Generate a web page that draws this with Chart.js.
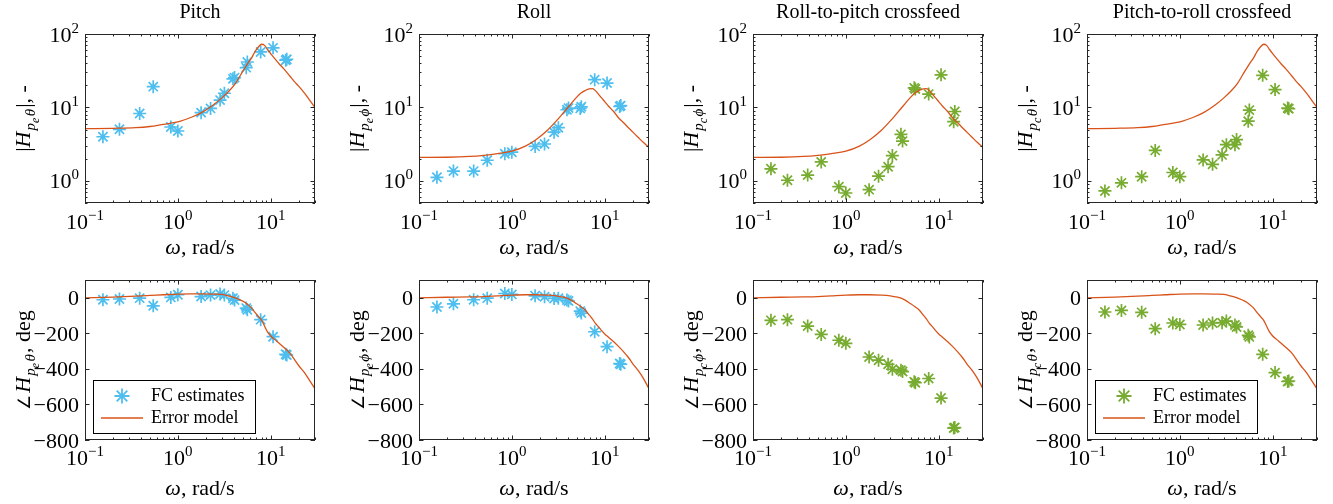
<!DOCTYPE html>
<html>
<head>
<meta charset="utf-8">
<script src="https://cdn.jsdelivr.net/npm/chart.js@4.4.0/dist/chart.umd.min.js"></script>
<style>
  html, body { margin: 0; padding: 0; background: #fff; overflow: hidden; }
  #wrap { position: relative; width: 1333px; height: 504px; }
  #wrap canvas { position: absolute; }
</style>
</head>
<body>
<div id="wrap"></div>
<script>
// Frequency-comb (FC) estimate frequencies, rad/s
const fcFreqs = [0.156, 0.235, 0.388, 0.543, 0.84, 1.0, 1.78, 2.25, 2.85, 3.17, 3.92, 4.08, 5.45, 5.6, 7.8, 10.6, 14.5, 14.9];

// FC estimates: magnitude (-) and phase (deg) per transfer function
const pitchMag   = [3.99, 5.04, 8.27, 19.2, 5.42, 4.78, 8.5, 9.7, 12.6, 15.6, 24.5, 25.5, 34.8, 41.6, 57, 64.8, 44, 45.3];
const pitchPhase = [-11, -7, -2, -45, 2, 17, 7, 15, 21, 15, -3, -13, -58, -68, -123, -219, -318, -322];
const rollMag    = [1.12, 1.36, 1.36, 1.91, 2.34, 2.46, 2.95, 3.18, 4.6, 5.3, 9.3, 9.8, 9.7, 10.2, 23.9, 21.5, 10.3, 10.6];
const rollPhase  = [-52, -34, -11, -2, 24, 19, 11, 6, -4, -2, -13, -18, -75, -86, -191, -275, -370, -374];
const rtpMag     = [1.46, 1.02, 1.2, 1.81, 0.835, 0.684, 0.76, 1.16, 1.56, 2.21, 4.3, 3.48, 18.5, 17.8, 15.2, 27.8, 6.4, 8.8];
const rtpPhase   = [-127, -123, -159, -206, -239, -256, -333, -351, -374, -402, -407, -415, -473, -478, -454, -564, -733, -730];
const ptrMag     = [0.73, 0.94, 1.14, 2.6, 1.3, 1.14, 1.93, 1.68, 2.26, 3.11, 3.11, 3.65, 6.5, 9.2, 27.4, 17.5, 9.8, 9.6];
const ptrPhase   = [-80, -71, -82, -174, -142, -150, -153, -142, -140, -131, -153, -164, -211, -220, -318, -421, -471, -468];

// Error model responses sampled along the frequency axis
const modelFreqs      = [0.1, 0.2, 0.35, 0.5, 0.7, 1.0, 1.4, 1.8, 2.4, 3.0, 3.6, 4.2, 5.0, 5.6, 6.2, 6.8, 7.4, 8.0, 8.6, 9.2, 10, 11, 12.5, 14, 16, 18, 20, 23, 26, 30];
const pitchModelMag   = [5.14, 5.2, 5.3, 5.5, 5.9, 6.35, 7.35, 8.5, 10.8, 13.6, 17.0, 21.5, 31, 39, 47, 58, 67, 72.5, 70, 62, 54, 46.5, 38.5, 33, 27, 22.5, 19.5, 15.8, 12.8, 10];
const rollModelMag    = [2.09, 2.1, 2.15, 2.23, 2.35, 2.54, 2.98, 3.6, 4.85, 6.5, 8.5, 10.7, 13.8, 15.8, 17.1, 17.9, 18.0, 16.8, 15.1, 13.6, 12, 10.4, 8.8, 7.3, 6.2, 5.3, 4.65, 3.9, 3.35, 2.86];
const pitchModelPhase = [0, 4, 9, 13, 17, 21, 22, 22, 21, 19, 9, -2, -19, -36, -57, -84, -106, -127, -160, -190, -215, -234, -258, -281, -310, -346, -381, -420, -462, -512];
const rollModelPhase  = [0, 3, 5, 7, 11, 15, 17, 17, 15, 11, 3, -9, -34, -52, -70, -96, -120, -146, -164, -183, -204, -222, -247, -272, -304, -336, -370, -410, -452, -512];

// Axis ticks
const freqTicks  = [0.1, 1, 10];
const magTicks   = [1, 10, 100];
const phaseTicks = [-800, -600, -400, -200, 0];

const BLUE = '#4DBEEE';
const GREEN = '#77AC30';
const RED = '#D95319';
const INK = '#262626';
const SERIF = '"Liberation Serif", "Times New Roman", serif';

const panels = [
  { title: 'Pitch', sub: 'e', v: '\u03B8', color: BLUE, mag: pitchMag, phase: pitchPhase, mMag: pitchModelMag, mPhase: pitchModelPhase, legend: true },
  { title: 'Roll', sub: 'e', v: '\u03D5', color: BLUE, mag: rollMag, phase: rollPhase, mMag: rollModelMag, mPhase: rollModelPhase, legend: false },
  { title: 'Roll-to-pitch crossfeed', sub: 'c', v: '\u03D5', color: GREEN, mag: rtpMag, phase: rtpPhase, mMag: rollModelMag, mPhase: rollModelPhase, legend: false },
  { title: 'Pitch-to-roll crossfeed', sub: 'c', v: '\u03B8', color: GREEN, mag: ptrMag, phase: ptrPhase, mMag: pitchModelMag, mPhase: pitchModelPhase, legend: true },
];

// --- rich text helpers (runs of text with size / italic / vertical offset) ---
function runFont(r) {
  return (r.it ? 'italic ' : '') + r.s + 'px ' + SERIF;
}
function runsWidth(ctx, runs) {
  let w = 0;
  for (const r of runs) {
    ctx.font = runFont(r);
    w += ctx.measureText(r.t).width + (r.gap || 0);
  }
  return w;
}
function drawRuns(ctx, runs, x, y) {
  for (const r of runs) {
    ctx.font = runFont(r);
    ctx.fillText(r.t, x, y + (r.dy || 0));
    x += ctx.measureText(r.t).width + (r.gap || 0);
  }
}
function powRuns(v) {
  const e = Math.round(Math.log10(v));
  return [{ t: '10', s: 22 }, { t: (e < 0 ? '\u2212' : '') + Math.abs(e), s: 15, dy: -9 }];
}
function hRuns(p) {
  return [
    { t: 'H', s: 22, it: true, gap: 1 },
    { t: 'p', s: 15, it: true, dy: 5 },
    { t: p.sub, s: 12, it: true, dy: 9, gap: 1.5 },
    { t: p.v, s: 15, it: true, dy: 5, gap: 1 },
  ];
}

// minor + major tick positions along a log axis
function logStops(min, max) {
  const out = [];
  for (let e = Math.floor(Math.log10(min)); e <= Math.ceil(Math.log10(max)); e++) {
    for (let k = 1; k <= 9; k++) {
      const v = k * Math.pow(10, e);
      if (v >= min * 0.999 && v <= max * 1.001) out.push({ v, major: k === 1 });
    }
  }
  return out;
}

// frame, inward ticks, tick labels, axis labels, title and legend
const decor = {
  id: 'decor',
  afterDraw(chart, args, o) {
    const ctx = chart.ctx;
    const ca = chart.chartArea;
    const left = Math.round(ca.left), right = Math.round(ca.right);
    const top = Math.round(ca.top), bottom = Math.round(ca.bottom);
    const xs = chart.scales.x, ys = chart.scales.y;
    ctx.save();

    ctx.strokeStyle = INK;
    ctx.lineWidth = 1;
    ctx.strokeRect(left + 0.5, top + 0.5, right - left - 1, bottom - top - 1);

    ctx.beginPath();
    for (const s of logStops(xs.min, xs.max)) {
      const px = Math.round(xs.getPixelForValue(s.v)) + 0.5;
      const len = s.major ? 4.5 : 2.5;
      ctx.moveTo(px, bottom); ctx.lineTo(px, bottom - len);
      ctx.moveTo(px, top); ctx.lineTo(px, top + len);
    }
    const yStops = o.isMag ? logStops(ys.min, ys.max) : phaseTicks.map(v => ({ v, major: true }));
    for (const s of yStops) {
      const py = Math.round(ys.getPixelForValue(s.v)) + 0.5;
      const len = s.major ? 4.5 : 2.5;
      ctx.moveTo(left, py); ctx.lineTo(left + len, py);
      ctx.moveTo(right, py); ctx.lineTo(right - len, py);
    }
    ctx.stroke();

    ctx.fillStyle = '#000';
    ctx.textBaseline = 'alphabetic';
    ctx.textAlign = 'left';

    // x tick labels
    for (const v of freqTicks) {
      const runs = powRuns(v);
      const w = runsWidth(ctx, runs);
      drawRuns(ctx, runs, xs.getPixelForValue(v) - w / 2, bottom + o.tickBase);
    }
    // y tick labels
    if (o.isMag) {
      for (const v of magTicks) {
        const runs = powRuns(v);
        const w = runsWidth(ctx, runs);
        drawRuns(ctx, runs, left - 6 - w, ys.getPixelForValue(v) + 7.5);
      }
    } else {
      for (const v of phaseTicks) {
        const runs = [{ t: v < 0 ? '\u2212' + Math.abs(v) : String(v), s: 22 }];
        const w = runsWidth(ctx, runs);
        drawRuns(ctx, runs, left - 6 - w, ys.getPixelForValue(v) + 7.5);
      }
    }

    // x axis label
    const xl = [{ t: '\u03C9', s: 22, it: true }, { t: ', rad/s', s: 22 }];
    const xw = runsWidth(ctx, xl);
    drawRuns(ctx, xl, (left + right) / 2 - xw / 2, bottom + o.labelBase);

    // y axis label, rotated
    const p = o.panel;
    const yl = o.isMag
      ? [{ t: '|', s: 22 }].concat(hRuns(p), [{ t: '|, -', s: 22 }])
      : [{ t: '\u2220', s: 17, gap: 2 }].concat(hRuns(p), [{ t: ', deg', s: 22 }]);
    const yw = runsWidth(ctx, yl);
    ctx.save();
    ctx.translate(30, (top + bottom) / 2);
    ctx.rotate(-Math.PI / 2);
    drawRuns(ctx, yl, -yw / 2, 0);
    ctx.restore();

    // panel title
    if (o.isMag) {
      ctx.font = '20px ' + SERIF;
      ctx.textAlign = 'center';
      ctx.fillText(p.title, (left + right) / 2, 18);
      ctx.textAlign = 'left';
    }

    // legend box
    if (!o.isMag && p.legend) {
      const bx = left + 8, by = top + 100, bw = 162, bh = 53;
      ctx.fillStyle = '#fff';
      ctx.fillRect(bx, by, bw, bh);
      ctx.strokeStyle = '#000';
      ctx.lineWidth = 1;
      ctx.strokeRect(bx + 0.5, by + 0.5, bw, bh);
      ctx.strokeStyle = p.color;
      ctx.lineWidth = 1.8;
      Chart.helpers.drawPoint(ctx, { pointStyle: 'star', radius: 7.5, borderWidth: 1.8 }, left + 37, by + 16);
      ctx.strokeStyle = RED;
      ctx.lineWidth = 1.3;
      ctx.beginPath();
      ctx.moveTo(left + 16, by + 38); ctx.lineTo(left + 58, by + 38);
      ctx.stroke();
      ctx.fillStyle = '#000';
      ctx.font = '18px ' + SERIF;
      ctx.textBaseline = 'middle';
      ctx.fillText('FC estimates', left + 66, by + 16);
      ctx.fillText('Error model', left + 66, by + 38);
    }
    ctx.restore();
  }
};

const wrap = document.getElementById('wrap');
const COL_W = 331, COL_STEP = 334;
const TOP_H = 264, BOT_TOP = 252, BOT_H = 252;

function makeChart(x0, p, isMag) {
  const cv = document.createElement('canvas');
  cv.width = COL_W;
  cv.height = isMag ? TOP_H : BOT_H;
  cv.style.left = x0 + 'px';
  cv.style.top = (isMag ? 0 : BOT_TOP) + 'px';
  wrap.appendChild(cv);

  const model = isMag ? p.mMag : p.mPhase;
  const est = isMag ? p.mag : p.phase;

  new Chart(cv, {
    type: 'scatter',
    data: {
      datasets: [
        {
          label: 'Error model',
          data: modelFreqs.map((w, k) => ({ x: w, y: model[k] })),
          showLine: true,
          borderColor: RED,
          borderWidth: 1.3,
          pointRadius: 0,
          cubicInterpolationMode: 'monotone',
        },
        {
          label: 'FC estimates',
          data: fcFreqs.map((w, k) => ({ x: w, y: est[k] })),
          pointStyle: 'star',
          pointRadius: 6.5,
          borderColor: p.color,
          backgroundColor: p.color,
          borderWidth: 1.7,
        },
      ],
    },
    options: {
      responsive: false,
      animation: false,
      events: [],
      layout: {
        padding: isMag
          ? { left: 85, right: 16, top: 34, bottom: TOP_H - 203 }
          : { left: 85, right: 16, top: 28, bottom: 64 },
      },
      scales: {
        x: { type: 'logarithmic', min: 0.1, max: 30, display: false },
        y: isMag
          ? { type: 'logarithmic', min: 0.5, max: 100, display: false }
          : { type: 'linear', min: -800, max: 100, display: false },
      },
      plugins: {
        legend: { display: false },
        tooltip: { enabled: false },
        decor: { panel: p, isMag, tickBase: isMag ? 26 : 25, labelBase: isMag ? 51 : 55 },
      },
    },
    plugins: [decor],
  });
}

panels.forEach((p, i) => {
  makeChart(i * COL_STEP, p, true);
  makeChart(i * COL_STEP, p, false);
});
</script>
</body>
</html>
